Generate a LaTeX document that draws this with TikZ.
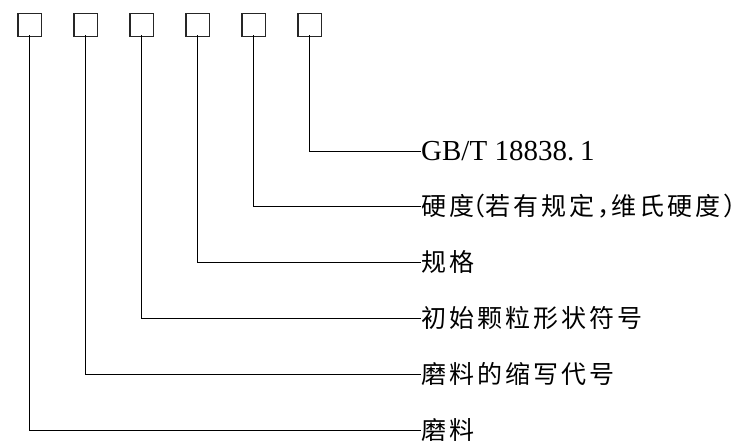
\documentclass[tikz,border=0pt]{standalone}
\usepackage{fontspec}
\newfontfamily\cjk{Noto Sans CJK SC}
\newfontfamily\cjkhalt{Noto Sans CJK SC}[RawFeature=+halt]
\setmainfont{Liberation Serif}
\tikzset{
  slot/.style={draw=black!85, line width=1.2pt, minimum width=23.4pt, minimum height=23.4pt, inner sep=0pt},
  lbl/.style={anchor=west, inner sep=0pt, text height=21pt, text depth=3pt, font=\cjk\fontsize{25pt}{25pt}\selectfont},
  latin/.style={font=\fontsize{29pt}{29pt}\selectfont},
  lead/.style={line width=1pt, black}
}
\def\spaced#1{\spacedi#1\relax}
\def\spacedi#1{\ifx#1\relax\else\makebox[28pt][l]{#1}\expandafter\spacedi\fi}
\newcommand{\lpar}{\makebox[8pt][r]{\cjkhalt （}}
\newcommand{\rpar}{\makebox[14pt][l]{\cjkhalt ）}}
\newcommand{\cjkcomma}{\makebox[14pt][l]{\cjkhalt ，}}
\begin{document}
\begin{tikzpicture}[x=1pt,y=-1pt]
\useasboundingbox (0,0) rectangle (745,446);
\foreach \i in {1,...,6}{
  \node[slot] (b\i) at ({29.7+56*(\i-1)},25) {};
}
\node[lbl, latin] (t6) at (421,151.3) {GB/T 18838.\hspace{6pt}1};
\node[lbl] (t5) at (421,207.0) {\spaced{硬度}\lpar\spaced{若有规定}\cjkcomma\spaced{维氏硬度}\rpar};
\node[lbl] (t4) at (421,262.7) {\spaced{规格}};
\node[lbl] (t3) at (421,318.7) {\spaced{初始颗粒形状符号}};
\node[lbl] (t2) at (421,375.0) {\spaced{磨料的缩写代号}};
\node[lbl] (t1) at (421,431.0) {\spaced{磨料}};
\foreach \i in {1,...,6}{
  \draw[lead] ([yshift=2pt]b\i.south) |- (t\i.west);
}
\end{tikzpicture}
\end{document}
